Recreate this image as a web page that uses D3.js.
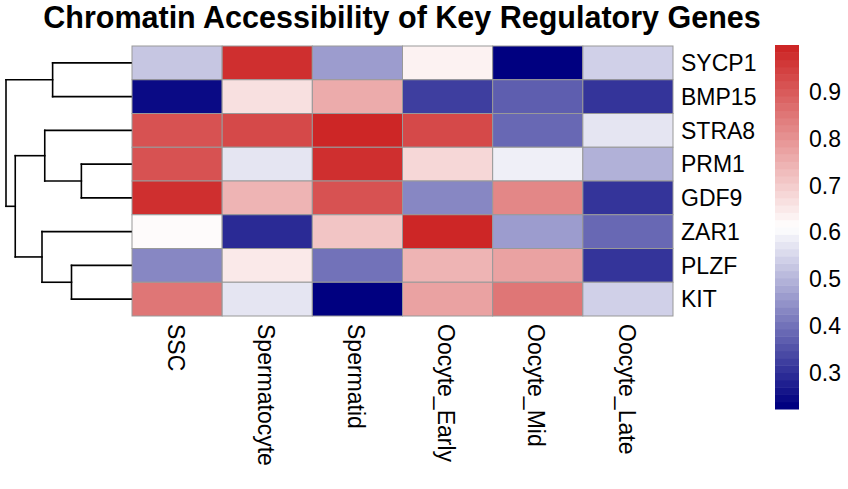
<!DOCTYPE html>
<html>
<head>
<meta charset="utf-8">
<script src="https://cdn.jsdelivr.net/npm/d3@7"></script>
<style>
  html, body { margin: 0; padding: 0; background: #ffffff; }
  svg { display: block; font-family: "Liberation Sans", Arial, Helvetica, sans-serif; }
</style>
</head>
<body>
<svg id="chart" width="848" height="489"></svg>
<script>
// ---------------- data ----------------
const title = "Chromatin Accessibility of Key Regulatory Genes";
const columns = ["SSC", "Spermatocyte", "Spermatid", "Oocyte_Early", "Oocyte_Mid", "Oocyte_Late"];
const genes = ["SYCP1", "BMP15", "STRA8", "PRM1", "GDF9", "ZAR1", "PLZF", "KIT"];

const valSYCP1 = [0.522, 0.970, 0.464, 0.635, 0.222, 0.540];
const valBMP15 = [0.240, 0.666, 0.764, 0.317, 0.363, 0.300];
const valSTRA8 = [0.919, 0.934, 1.000, 0.930, 0.384, 0.570];
const valPRM1  = [0.920, 0.565, 0.973, 0.680, 0.586, 0.491];
const valGDF9  = [0.975, 0.750, 0.920, 0.430, 0.817, 0.315];
const valZAR1  = [0.615, 0.285, 0.719, 0.985, 0.464, 0.384];
const valPLZF  = [0.430, 0.653, 0.400, 0.736, 0.767, 0.315];
const valKIT   = [0.845, 0.565, 0.222, 0.782, 0.850, 0.540];
const values = [valSYCP1, valBMP15, valSTRA8, valPRM1, valGDF9, valZAR1, valPLZF, valKIT];

// hierarchical clustering merges (hclust style): negative = leaf index, positive = merge number
const mergeLeft   = [-4, -7, -1, -3, -6, 4, 3];
const mergeRight  = [-5, -8, -2,  1,  2, 5, 6];
const mergeHeight = [0.397, 0.476, 0.627, 0.690, 0.712, 0.926, 1.000];

const legendTicks = [0.3, 0.4, 0.5, 0.6, 0.7, 0.8, 0.9];
const paletteAnchors = ["#000080", "#FFFFFF", "#CD2626"]; // navy, white, firebrick3
const nColors = 50;

// ---------------- layout ----------------
const svg = d3.select("#chart");
const hm = { x0: 132, x1: 673, y0: 46, y1: 316 };
const fontLabel = 23;

const x = d3.scaleBand().domain(columns).range([hm.x0, hm.x1]);
const y = d3.scaleBand().domain(genes).range([hm.y0, hm.y1]);

// colour palette (colorRampPalette-like, linear RGB)
const ramp = d3.scaleLinear().domain([0, 0.5, 1]).range(paletteAnchors).interpolate(d3.interpolateRgb);
const palette = d3.range(nColors).map(i => ramp(i / (nColors - 1)));
const flat = values.flat();
const vmin = d3.min(flat), vmax = d3.max(flat);
const color = d3.scaleQuantize().domain([vmin, vmax]).range(palette);

// ---------------- title ----------------
svg.append("text")
  .attr("x", 402).attr("y", 28)
  .attr("text-anchor", "middle")
  .attr("font-weight", "bold")
  .attr("font-size", 30.5)
  .text(title);

// ---------------- cells ----------------
const cells = [];
genes.forEach((g, i) => columns.forEach((c, j) => cells.push({ g, c, v: values[i][j] })));

svg.append("g").selectAll("rect").data(cells).join("rect")
  .attr("x", d => x(d.c))
  .attr("y", d => y(d.g))
  .attr("width", x.bandwidth())
  .attr("height", y.bandwidth())
  .attr("fill", d => color(d.v))
  .attr("stroke", "#999999")
  .attr("stroke-width", 1);

// ---------------- row labels ----------------
svg.append("g").selectAll("text").data(genes).join("text")
  .attr("x", hm.x1 + 8)
  .attr("y", d => y(d) + y.bandwidth() / 2)
  .attr("dy", "0.36em")
  .attr("font-size", fontLabel)
  .text(d => d);

// ---------------- column labels ----------------
svg.append("g").selectAll("text").data(columns).join("text")
  .attr("transform", d => `translate(${x(d) + x.bandwidth() / 2 - 1},${hm.y1 + 8}) rotate(90)`)
  .attr("dy", "0.36em")
  .attr("font-size", fontLabel)
  .attr("text-anchor", "start")
  .text(d => d);

// ---------------- dendrogram ----------------
const hx = d3.scaleLinear().domain([0, d3.max(mergeHeight)]).range([hm.x0 - 1, 6]);
const nodes = [];
function nodeInfo(id) {
  if (id < 0) {
    const g = genes[-id - 1];
    return { y: y(g) + y.bandwidth() / 2, h: 0 };
  }
  return nodes[id - 1];
}
const segs = [];
mergeLeft.forEach((l, k) => {
  const a = nodeInfo(l), b = nodeInfo(mergeRight[k]);
  const h = mergeHeight[k];
  segs.push([hx(a.h), a.y, hx(h), a.y]);
  segs.push([hx(b.h), b.y, hx(h), b.y]);
  segs.push([hx(h), a.y, hx(h), b.y]);
  nodes.push({ y: (a.y + b.y) / 2, h });
});
svg.append("g").selectAll("line").data(segs).join("line")
  .attr("x1", d => d[0]).attr("y1", d => d[1])
  .attr("x2", d => d[2]).attr("y2", d => d[3])
  .attr("stroke", "#000000")
  .attr("stroke-width", 1.6)
  .attr("stroke-linecap", "square");

// ---------------- legend ----------------
const lg = { x0: 775, x1: 799, y0: 45, y1: 409 };
const ly = d3.scaleLinear().domain([vmin, vmax]).range([lg.y1, lg.y0]);
const step = (vmax - vmin) / nColors;
svg.append("g").selectAll("rect").data(palette).join("rect")
  .attr("x", lg.x0)
  .attr("y", (d, i) => ly(vmin + (i + 1) * step))
  .attr("width", lg.x1 - lg.x0)
  .attr("height", (d, i) => ly(vmin + i * step) - ly(vmin + (i + 1) * step) + 0.5)
  .attr("fill", d => d);

svg.append("g").selectAll("text").data(legendTicks).join("text")
  .attr("x", 809)
  .attr("y", d => ly(d))
  .attr("dy", "0.36em")
  .attr("font-size", fontLabel)
  .text(d => d.toFixed(1));
</script>
</body>
</html>
